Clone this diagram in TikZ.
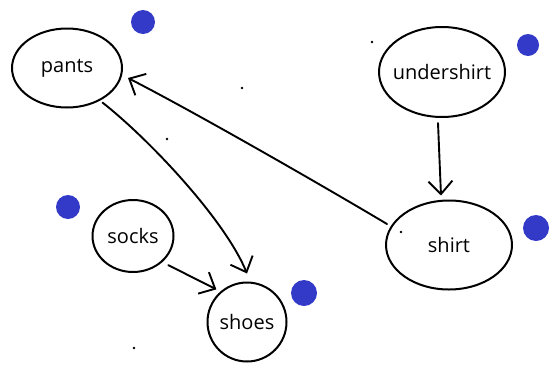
\documentclass[tikz,border=0pt]{standalone}
\usepackage{fontspec}
\setsansfont{Open Sans}
\usetikzlibrary{arrows.meta,shapes.geometric}
\definecolor{penblue}{RGB}{52,58,200}
\begin{document}
\begin{tikzpicture}[x=1pt,y=-1pt,
  vert/.style={draw=black,line width=2pt,ellipse,inner xsep=-10pt,inner ysep=0pt,font=\sffamily\fontsize{20}{20}\selectfont},
  edge/.style={draw=black,line width=1.9pt,line cap=round,-{Straight Barb[length=13pt,width=24pt,line width=1.9pt]}},
  bluedot/.style={fill=penblue,draw=none},
  speck/.style={fill=black,draw=none}]
\useasboundingbox (0,0) rectangle (556,370);
\node[vert,minimum width=110pt,minimum height=79pt] (pants) at (67,68) {pants};
\node[vert,minimum width=126pt,minimum height=90pt] (under) at (442,72) {undershirt};
\node[vert,minimum width=126pt,minimum height=89pt] (shirt) at (449,245) {shirt};
\node[vert,minimum width=81pt,minimum height=72pt] (socks) at (133,236) {socks};
\node[vert,minimum width=79pt,minimum height=79pt] (shoes) at (247,322) {shoes};
\fill[bluedot] (143,22) circle (12);
\fill[bluedot] (528,45) circle (11);
\fill[bluedot] (536,228) circle (13);
\fill[bluedot] (304,293) circle (13);
\fill[bluedot] (68,207) circle (12);
\foreach \p in {(242,88),(167,139),(372,42),(134,348),(401,232)} \fill[speck] \p circle (1.3);
\coordinate (u1) at ([shift={(-4,5)}]under.south);
\coordinate (u2) at ([shift={(-8,-4)}]shirt.north);
\draw[edge] (u1) -- (u2);
\coordinate (s1) at ([shift={(2,-21)}]shirt.west);
\coordinate (p2) at ([shift={(5,10)}]pants.east);
\draw[edge] (s1) .. controls (330,190) and (200,115) .. (p2);
\coordinate (p1) at ([shift={(-4,6)}]pants.south east);
\coordinate (h1) at ([shift={(0,-8)}]shoes.north);
\draw[edge] (p1) .. controls (150,140) and (225,220) .. (h1);
\coordinate (k1) at ([shift={(6,3)}]socks.south east);
\coordinate (h2) at ([shift={(-2,-4)}]shoes.north west);
\draw[edge] (k1) -- (h2);
\end{tikzpicture}
\end{document}
